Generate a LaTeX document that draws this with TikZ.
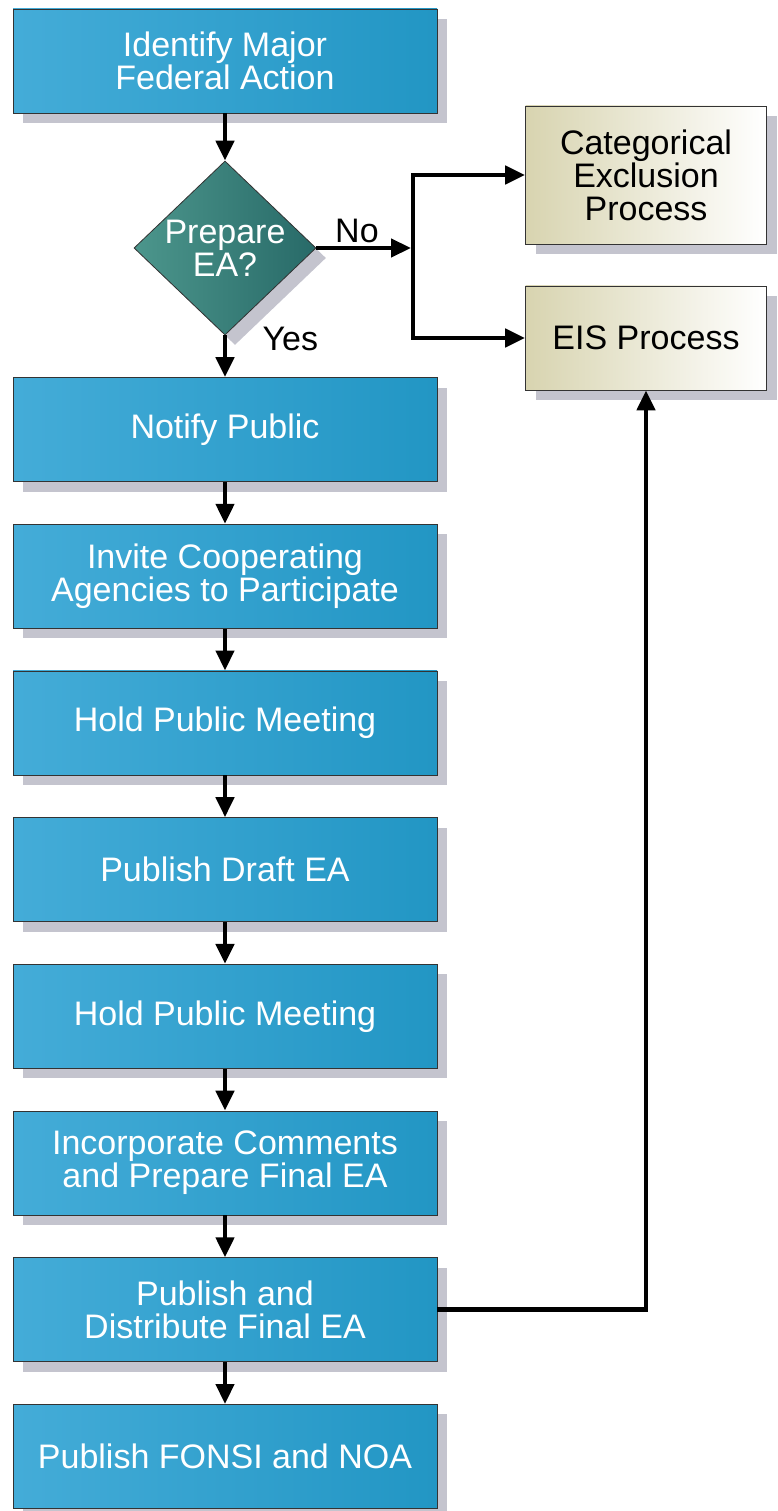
\documentclass[tikz,border=0pt]{standalone}
\usepackage{fontspec}
\setmainfont{Liberation Sans}
\usetikzlibrary{positioning, shapes.geometric, shadows, arrows.meta}
\definecolor{stageblue}{RGB}{68,172,216}
\definecolor{stagebluedark}{RGB}{34,150,196}
\definecolor{askteal}{RGB}{76,150,140}
\definecolor{asktealdark}{RGB}{40,106,104}
\definecolor{sidetan}{RGB}{216,212,176}
\definecolor{shadowgray}{RGB}{196,196,206}
\tikzset{
    ->, % every connector ends in a head
    >={Triangle[length=20pt,width=18pt]}, % big solid heads
    node distance=146.7pt, % centre to centre down the main column
    boxshadow/.style={drop shadow={shadow xshift=10pt, shadow yshift=-10pt, fill=shadowgray, opacity=1}},
    bigtext/.style={font=\fontsize{34}{33}\selectfont},
    stage/.style={rectangle, draw=black!80, line width=0.8pt, left color=stageblue, right color=stagebluedark,
        minimum width=424pt, minimum height=104pt, align=center, text=white, bigtext, boxshadow},
    ask/.style={diamond, aspect=1.05, draw=black!80, line width=0.8pt, left color=askteal, right color=asktealdark,
        minimum width=182pt, minimum height=174pt, inner sep=0pt, align=center, text=white, bigtext, boxshadow},
    side/.style={rectangle, draw=black!80, line width=0.8pt, left color=sidetan, right color=white,
        minimum width=241pt, minimum height=104pt, align=center, text=black, bigtext, boxshadow},
    lbl/.style={bigtext, text=black},
}

\begin{document}
\begin{tikzpicture}[line width=4.5pt]
    \useasboundingbox (0,0) rectangle (778pt,-1511pt);
    % main column
    \node[stage] (identify) at (225pt,-61pt) {Identify Major\\Federal Action};
    \node[ask, node distance=187pt, below of=identify] (prepea) {Prepare\\EA?};
    \node[stage, node distance=181.5pt, below of=prepea] (notify) {Notify Public};
    \node[stage, below of=notify] (invite) {Invite Cooperating\\Agencies to Participate};
    \node[stage, below of=invite] (meetone) {Hold Public Meeting};
    \node[stage, below of=meetone] (draft) {Publish Draft EA};
    \node[stage, below of=draft] (meettwo) {Hold Public Meeting};
    \node[stage, below of=meettwo] (incorp) {Incorporate Comments\\and Prepare Final EA};
    \node[stage, below of=incorp] (final) {Publish and\\Distribute Final EA};
    \node[stage, below of=final] (fonsi) {Publish FONSI and NOA};
    % the two other processes
    \node[side, minimum height=138pt] (catex) at (646pt,-175pt) {Categorical\\Exclusion\\Process};
    \node[side, node distance=163pt, below of=catex] (eis) {EIS Process};
    \coordinate (split) at (413pt,-248pt);

    \draw
    (identify) edge (prepea)
    (prepea) edge node[lbl, pos=0.08, anchor=west, xshift=32pt]{Yes} (notify)
    (notify) edge (invite)
    (invite) edge (meetone)
    (meetone) edge (draft)
    (draft) edge (meettwo)
    (meettwo) edge (incorp)
    (incorp) edge (final)
    (final) edge (fonsi);
    \draw[shorten >=2pt] (prepea) -- node[lbl, above, pos=0.42]{No} (split);
    \draw[<->] (catex.west) -| (split) |- (eis.west);
    \draw (final.east) -| (eis.south);
\end{tikzpicture}
\end{document}
